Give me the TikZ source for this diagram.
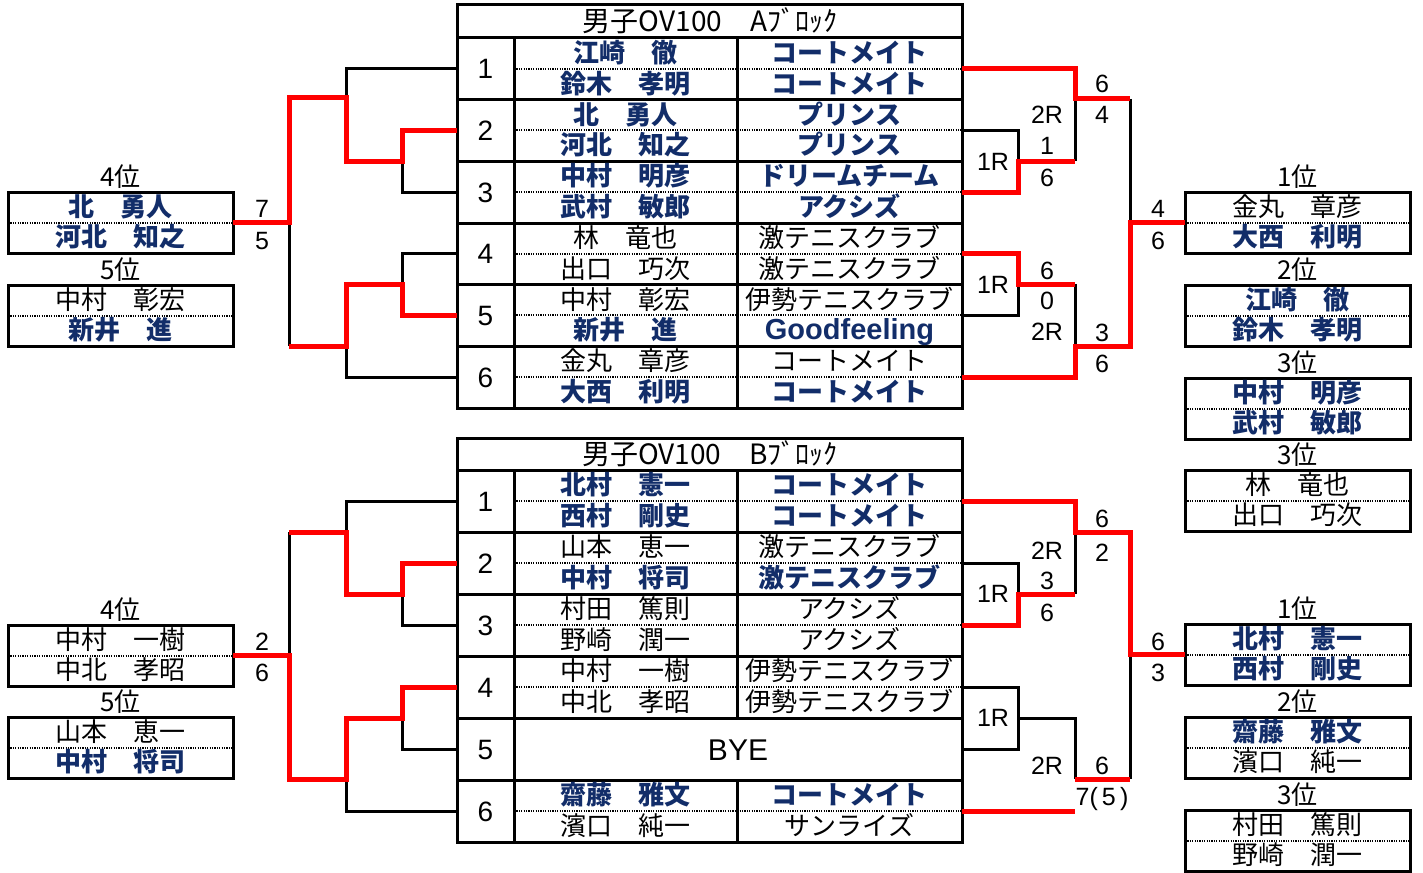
\documentclass[tikz,border=0pt]{standalone}
\usepackage{fontspec}
\setmainfont{Liberation Sans}
\newfontfamily\jp{Noto Sans CJK JP}
\usetikzlibrary{calc}
\definecolor{teamblue}{RGB}{18,45,105}
\newcommand{\latb}{\normalfont\bfseries\fontsize{14.5}{14.5}\selectfont}
\tikzset{
  tbl/.style={line width=1.5pt},
  dotl/.style={line width=1pt, dash pattern=on 0.6pt off 0.6pt},
  br/.style={line width=1.5pt},
  win/.style={line width=2.5pt, red},
  nm/.style={font=\jp\fontsize{13}{13}\selectfont, inner sep=0pt, text height=11pt, text depth=2pt},
  nmb/.style={nm, font=\jp\bfseries\fontsize{13}{13}\selectfont, text=teamblue},
  ttl/.style={font=\jp\fontsize{14}{14}\selectfont, inner sep=0pt, text height=12pt, text depth=2pt},
  num/.style={font=\fontsize{14}{14}\selectfont, inner sep=0pt, text height=10pt, text depth=0pt},
  scr/.style={font=\fontsize{12.5}{12.5}\selectfont, inner sep=0pt, text height=9pt, text depth=0pt},
}
\begin{document}
\begin{tikzpicture}[x=0.5pt, y=-0.5pt]
  \useasboundingbox (0,0) rectangle (1423,872);
  % Block A table
  \draw[tbl] (457,5) rectangle (962,408);
  \draw[tbl] (457,38) -- (962,38);
  \foreach \k in {1,...,5}
    \draw[tbl] (457,{38+\k*61.67}) -- (962,{38+\k*61.67});
  \draw[tbl] (514,38) -- (514,408);
  \draw[tbl] (737,38) -- (737,408);
  \node[ttl] (ttlA) at (710,21.5) {男子OV100　Aﾌﾞﾛｯｸ};
  \foreach \g/\na/\ta/\sa/\nb/\tb/\sb in {
      1/江崎　徹/コートメイト/nmb/鈴木　孝明/コートメイト/nmb,
      2/北　勇人/プリンス/nmb/河北　知之/プリンス/nmb,
      3/中村　明彦/ドリームチーム/nmb/武村　敏郎/アクシズ/nmb,
      4/林　竜也/激テニスクラブ/nm/出口　巧次/激テニスクラブ/nm,
      5/中村　彰宏/伊勢テニスクラブ/nm/新井　進/\latb Goodfeeling/nmb,
      6/金丸　章彦/コートメイト/nm/大西　利明/コートメイト/nmb} {
    \pgfmathsetmacro{\ty}{38+(\g-1)*61.67}
    \draw[dotl] (514,\ty+30.8) -- (962,\ty+30.8);
    \coordinate (aL\g) at (457,\ty+30.8);
    \coordinate (aR\g) at (962,\ty+30.8);
    \node[num] (ag\g) at (485.5,\ty+30.8) {\g};
    \node[\sa] (anu\g) at (625.5,\ty+15.4) {\na};
    \node[\sa] (atu\g) at (849.5,\ty+15.4) {\ta};
    \node[\sb] (anl\g) at (625.5,\ty+46.2) {\nb};
    \node[\sb] (atl\g) at (849.5,\ty+46.2) {\tb};
  }

  % Block B table
  \draw[tbl] (457,438) rectangle (962,842);
  \draw[tbl] (457,470) -- (962,470);
  \foreach \k in {1,...,5}
    \draw[tbl] (457,{470+\k*62}) -- (962,{470+\k*62});
  \draw[tbl] (514,470) -- (514,842);
  \draw[tbl] (737,470) -- (737,718);
  \draw[tbl] (737,780) -- (737,842);
  \node[ttl] (ttlB) at (710,454) {男子OV100　Bﾌﾞﾛｯｸ};
  \foreach \g/\na/\ta/\sa/\nb/\tb/\sb in {
      1/北村　憲一/コートメイト/nmb/西村　剛史/コートメイト/nmb,
      2/山本　恵一/激テニスクラブ/nm/中村　将司/激テニスクラブ/nmb,
      3/村田　篤則/アクシズ/nm/野崎　潤一/アクシズ/nm,
      4/中村　一樹/伊勢テニスクラブ/nm/中北　孝昭/伊勢テニスクラブ/nm,
      6/齋藤　雅文/コートメイト/nmb/濱口　純一/サンライズ/nm} {
    \pgfmathsetmacro{\ty}{470+(\g-1)*62}
    \draw[dotl] (514,\ty+31) -- (962,\ty+31);
    \node[\sa] (bnu\g) at (625.5,\ty+15.5) {\na};
    \node[\sa] (btu\g) at (849.5,\ty+15.5) {\ta};
    \node[\sb] (bnl\g) at (625.5,\ty+46.5) {\nb};
    \node[\sb] (btl\g) at (849.5,\ty+46.5) {\tb};
  }
  \foreach \g in {1,...,6} {
    \coordinate (bL\g) at (457,{470+(\g-1)*62+31});
    \coordinate (bR\g) at (962,{470+(\g-1)*62+31});
    \node[num] (bg\g) at (485.5,{470+(\g-1)*62+31}) {\g};
  }
  \node[num, font=\fontsize{15}{15}\selectfont, text height=11pt] (bye) at (738,749) {BYE};

  % Result boxes
  \foreach \n/\cx/\yt/\rk/\na/\sa/\nb/\sb in {
      L1/120.5/192/4位/北　勇人/nmb/河北　知之/nmb,
      L2/120.5/285/5位/中村　彰宏/nm/新井　進/nmb,
      L3/120.5/625/4位/中村　一樹/nm/中北　孝昭/nm,
      L4/120.5/717/5位/山本　恵一/nm/中村　将司/nmb,
      R1/1297.5/192/1位/金丸　章彦/nm/大西　利明/nmb,
      R2/1297.5/285/2位/江崎　徹/nmb/鈴木　孝明/nmb,
      R3/1297.5/378/3位/中村　明彦/nmb/武村　敏郎/nmb,
      R4/1297.5/470/3位/林　竜也/nm/出口　巧次/nm,
      R5/1297.5/624/1位/北村　憲一/nmb/西村　剛史/nmb,
      R6/1297.5/717/2位/齋藤　雅文/nmb/濱口　純一/nm,
      R7/1297.5/810/3位/村田　篤則/nm/野崎　潤一/nm} {
    \draw[tbl] (\cx-112.5,\yt) rectangle (\cx+112.5,\yt+61);
    \draw[dotl] (\cx-112.5,\yt+30.5) -- (\cx+112.5,\yt+30.5);
    \coordinate (w\n) at (\cx-112.5,\yt+30.5);
    \coordinate (e\n) at (\cx+112.5,\yt+30.5);
    \node[nm] (rk\n) at (\cx,\yt-15) {\rk};
    \node[\sa] (pu\n) at (\cx,\yt+15.3) {\na};
    \node[\sb] (pl\n) at (\cx,\yt+45.8) {\nb};
  }

  % Block A, left bracket
  \draw[br] (aL1) -| (346,98);
  \draw[br] (aL3) -| (402,161);
  \draw[br] (aL4) -| (402,284);
  \draw[br] (aL6) -| (346,346);
  \draw[br] (289,222) -- (289,346);
  \draw[win] (aL2) -| (402,161) -| (346,98) -- (289,98) |- (eL1);
  \draw[win] (aL5) -| (402,284) -| (346,346) -- (289,346);
  % Block A, right bracket
  \draw[br] (aR2) -| (1018,161);
  \draw[br] (aR5) -| (1018,284);
  \draw[br] (1075,99) -- (1075,161);
  \draw[br] (1075,284) -- (1075,346);
  \draw[br] (1130,99) -- (1130,223);
  \draw[win] (aR1) -| (1075,99) -- (1130,99);
  \draw[win] (aR3) -| (1018,161) -- (1075,161);
  \draw[win] (aR4) -| (1018,284) -- (1075,284);
  \draw[win] (aR6) -| (1075,346) -- (1130,346) |- (wR1);

  % Block B, left bracket
  \draw[br] (bL1) -| (346,532);
  \draw[br] (bL3) -| (402,594);
  \draw[br] (bL5) -| (402,718);
  \draw[br] (bL6) -| (346,779);
  \draw[br] (289,532) -- (289,656);
  \draw[win] (bL2) -| (402,594) -| (346,532) -- (289,532);
  \draw[win] (bL4) -| (402,718) -| (346,779) -- (289,779) |- (eL3);
  % Block B, right bracket
  \draw[br] (bR2) -| (1018,594);
  \draw[br] (bR4) -| (1018,749) -- (bR5);
  \draw[br] (1018,718) -| (1075,779);
  \draw[br] (1075,532) -- (1075,594);
  \draw[br] (1130,656) -- (1130,779);
  \draw[win] (bR1) -| (1075,532) -- (1130,532) |- (wR5);
  \draw[win] (bR3) -| (1018,594) -- (1075,594);
  \draw[win] (1075,779) -- (1130,779);
  \draw[win] (bR6) -- (1075,811);

  % Rounds and scores
  \foreach \i/\x/\y/\t in {
      1/262/208/7, 2/262/240/5,
      3/993/161/1R, 4/993/284/1R, 5/1047/115/2R, 6/1047/331/2R,
      7/1047/146/1, 8/1047/177/6, 9/1102/84/6, 10/1102/115/4,
      11/1047/270/6, 12/1047/300/0, 13/1102/332/3, 14/1102/363/6,
      15/1158/208/4, 16/1158/240/6,
      17/262/641/2, 18/262/672/6,
      19/993/593/1R, 20/993/717/1R, 21/1047/550/2R, 22/1047/765/2R,
      23/1047/580/3, 24/1047/612/6, 25/1102/518/6, 26/1102/552/2,
      27/1102/765/6, 28/1102/796/7(\,5\,),
      29/1158/641/6, 30/1158/672/3}
    \node[scr] (sc\i) at (\x,\y) {\t};
\end{tikzpicture}
\end{document}
